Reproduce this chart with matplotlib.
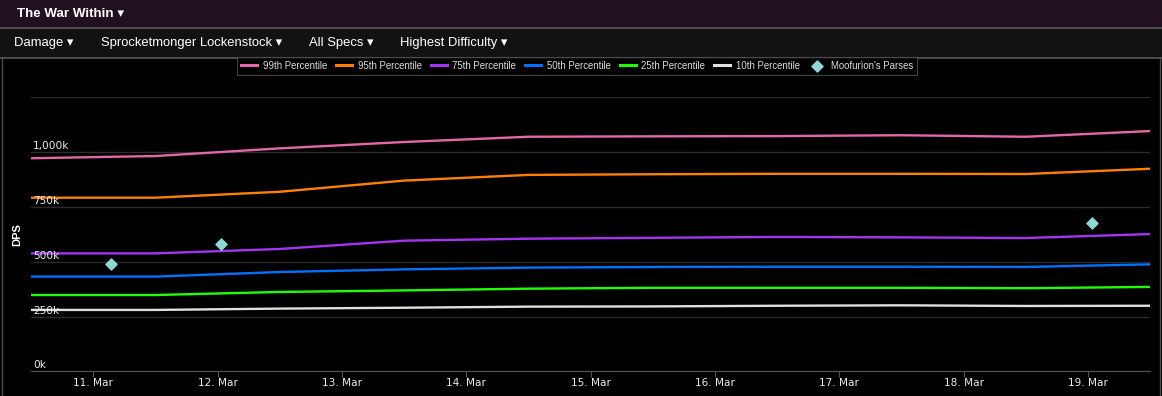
import matplotlib
matplotlib.use('Agg')
import matplotlib.pyplot as plt
import matplotlib.dates as mdates
import pandas as pd
from matplotlib.patches import Rectangle
from matplotlib.lines import Line2D

# data (DPS in thousands), one point per half day
days = pd.to_datetime([
    '2025-03-10 12:00', '2025-03-11 12:00', '2025-03-12 12:00', '2025-03-13 12:00',
    '2025-03-14 12:00', '2025-03-15 12:00', '2025-03-16 12:00', '2025-03-17 12:00',
    '2025-03-18 12:00', '2025-03-19 12:00',
])
p99 = [972, 982, 1017, 1046, 1070, 1072, 1073, 1077, 1070, 1096]
p95 = [792, 792, 819, 870, 896, 899, 901, 901, 900, 924]
p75 = [538, 538, 558, 596, 605, 609, 613, 611, 608, 626]
p50 = [432, 432, 453, 465, 473, 476, 477, 477, 476, 488]
p25 = [348, 348, 362, 369, 377, 381, 381, 381, 379, 385]
p10 = [280, 280, 286, 290, 295, 296, 299, 301, 298, 299]

parse_days = pd.to_datetime(['2025-03-11 03:30', '2025-03-12 00:45', '2025-03-19 00:45'])
parse_dps = [490, 582, 678]

series_names = ['99th Percentile', '95th Percentile', '75th Percentile', '50th Percentile',
                '25th Percentile', '10th Percentile']
series_vals = [p99, p95, p75, p50, p25, p10]
series_colors = ['#e268a8', '#ff8000', '#a335ee', '#0070ff', '#1eff00', '#e0e0e0']

y_ticks = [0, 250, 500, 750, 1000, 1250]
y_labels = ['0k', '250k', '500k', '750k', '1,000k', '']

menu_items = ['Damage', 'Sprocketmonger Lockenstock', 'All Specs', 'Highest Difficulty']
menu_x = [14, 101, 309, 400]

W, H = 1162, 396
fig = plt.figure(figsize=(W / 100, H / 100), dpi=100)
fig.patch.set_facecolor('#000000')
FONT = ['Liberation Sans', 'DejaVu Sans']
AXFONT = ['DejaVu Sans']


def px(x, y):
    return x / W, 1 - y / H


# header bars
fig.patches.append(Rectangle((0, 1 - 27 / H), 1, 27 / H, transform=fig.transFigure,
                             facecolor='#201020', edgecolor='none', zorder=0))
fig.patches.append(Rectangle((0, 1 - 57 / H), 1, 30 / H, transform=fig.transFigure,
                             facecolor='#121212', edgecolor='none', zorder=0))
for yy in (27.5, 57.5):
    fig.add_artist(Line2D([0, 1], [1 - yy / H] * 2, transform=fig.transFigure,
                          color='#5a5a5a', lw=1.2))
# side borders of the chart panel
for xx in (2, 1160):
    fig.add_artist(Line2D([xx / W] * 2, [0, 1 - 57.5 / H], transform=fig.transFigure,
                          color='#4a4a4a', lw=1))

fig.text(*px(17, 14), 'The War Within \u25be', color='white', fontsize=9.6,
         fontweight='bold', va='center', ha='left', family=FONT)
for label, xx in zip(menu_items, menu_x):
    fig.text(*px(xx, 43), label + ' \u25be', color='white', fontsize=9.4,
             va='center', ha='left', family=FONT)

# chart axes
ax = fig.add_axes([31 / W, (H - 371.3) / H, (1150 - 31) / W, (371.3 - 97.3) / H])
ax.set_facecolor('#000000')
for vals, name, col in zip(series_vals, series_names, series_colors):
    ax.plot(days, vals, color=col, lw=1.7, label=name)
ax.scatter(parse_days, parse_dps, marker='D', s=32, color='#8fd8d4', zorder=5,
           label="Moofurìon's Parses")

ax.set_xlim(pd.Timestamp('2025-03-10 12:00'), pd.Timestamp('2025-03-19 12:00'))
ax.set_ylim(0, 1250)
ax.set_yticks(y_ticks)
ax.yaxis.grid(True, color='#2b2b2b', lw=1)
ax.tick_params(axis='y', length=0, labelleft=False)
for t, lab in zip(y_ticks, y_labels):
    ax.text(0.002, t + 4, lab, transform=ax.get_yaxis_transform(), color='#ececec',
            fontsize=7.6, ha='left', va='bottom', family=AXFONT)

ax.xaxis.set_major_locator(mdates.DayLocator())
ax.xaxis.set_major_formatter(mdates.DateFormatter('%d. %b'))
ax.tick_params(axis='x', colors='#555555', length=4, labelcolor='#ececec',
               labelsize=7.6, pad=1)
for lab in ax.get_xticklabels():
    lab.set_family(AXFONT)
for s in ('top', 'right', 'left'):
    ax.spines[s].set_visible(False)
ax.spines['bottom'].set_color('#555555')
ax.set_axisbelow(True)

fig.text(*px(17, 235), 'DPS', rotation=90, color='white', fontsize=8,
         fontweight='bold', ha='center', va='center', family=FONT)

handles, labels = ax.get_legend_handles_labels()
leg = fig.legend(handles, labels, loc='upper center', bbox_to_anchor=(577 / W, 1 - 56.5 / H),
                 ncol=7, frameon=True, handlelength=1.65, handletextpad=0.6,
                 columnspacing=0.95, borderpad=0.45, borderaxespad=0, fancybox=False,
                 prop={'family': FONT, 'size': 6.9})
leg.get_frame().set_facecolor('#000000')
leg.get_frame().set_edgecolor('#555555')
leg.get_frame().set_linewidth(0.8)
for line in leg.get_lines():
    line.set_linewidth(2.2)
for txt in leg.get_texts():
    txt.set_color('#dcdcdc')

fig.savefig('out.png', dpi=100, facecolor=fig.get_facecolor())
